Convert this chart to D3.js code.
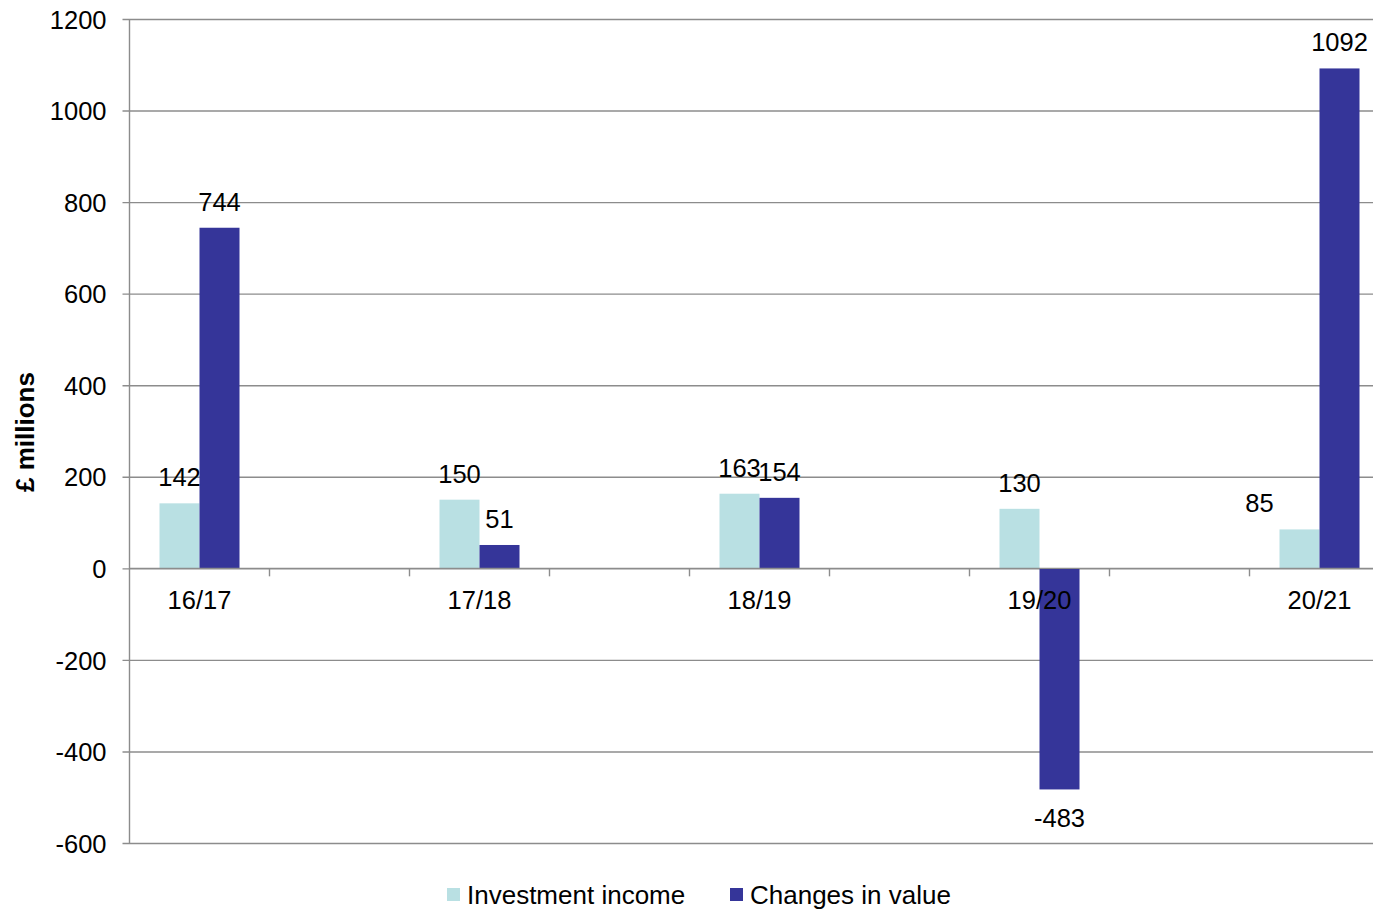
<!DOCTYPE html>
<html>
<head>
<meta charset="utf-8">
<script src="https://cdn.jsdelivr.net/npm/d3@7/dist/d3.min.js"></script>
<style>
  html, body { margin: 0; padding: 0; background: #fff; }
  svg { display: block; font-family: "Liberation Sans", Arial, Helvetica, sans-serif; }
</style>
</head>
<body>
<svg id="chart" width="1373" height="910"></svg>
<script>
// Financial years and the two series (£ millions)
const years = ["16/17", "17/18", "18/19", "19/20", "20/21"];
const investmentIncome = [142, 150, 163, 130, 85];
const changesInValue = [744, 51, 154, -483, 1092];
const seriesNames = ["Investment income", "Changes in value"];
const yTicks = [-600, -400, -200, 0, 200, 400, 600, 800, 1000, 1200];

const colors = ["#b9e0e3", "#353599"];
const gridColor = "#8c8c8c";
const fontSize = 25.5;

const svg = d3.select("#chart");
const W = 1373;

// Plot frame
const plotLeft = 129.5, plotTop = 19, plotBottom = 843;
const x = d3.scalePoint().domain(years).range([199.5, 1319.5]);
const y = d3.scaleLinear().domain([-600, 1200]).range([plotBottom, plotTop]);
const barW = 40;

// Horizontal gridlines with short ticks on the value axis
const yAxis = d3.axisLeft(y).tickValues(yTicks).tickSize(-(W - plotLeft)).tickPadding(0).tickFormat(d => d);
const gy = svg.append("g").attr("transform", `translate(${plotLeft},0)`).call(yAxis);
gy.select(".domain").remove();
gy.selectAll(".tick line").attr("stroke", gridColor).attr("stroke-width", 1.4).attr("x1", -7);
gy.selectAll(".tick text")
  .attr("x", -23).attr("dy", "0.36em")
  .attr("font-size", fontSize).attr("fill", "#000")
  .attr("font-family", "Liberation Sans, Arial, sans-serif");

// Value axis line
svg.append("line")
  .attr("x1", plotLeft).attr("x2", plotLeft).attr("y1", plotTop).attr("y2", plotBottom)
  .attr("stroke", gridColor).attr("stroke-width", 1.4);

// Bars
const series = [investmentIncome, changesInValue];
series.forEach((vals, s) => {
  svg.append("g").selectAll("rect").data(years).join("rect")
    .attr("x", (d) => x(d) + (s === 0 ? -barW : 0))
    .attr("width", barW)
    .attr("y", (d, i) => y(Math.max(0, vals[i])))
    .attr("height", (d, i) => Math.abs(y(vals[i]) - y(0)))
    .attr("fill", colors[s]);
});

// Category axis along zero, with tick marks every half step
const half = x.step() / 2;
svg.append("g").selectAll("line").data(d3.range(1, 9)).join("line")
  .attr("x1", k => x(years[0]) - half / 2 + k * half)
  .attr("x2", k => x(years[0]) - half / 2 + k * half)
  .attr("y1", y(0)).attr("y2", y(0) + 8)
  .attr("stroke", gridColor).attr("stroke-width", 1.4);

svg.append("line")
  .attr("x1", plotLeft).attr("x2", W).attr("y1", y(0)).attr("y2", y(0))
  .attr("stroke", gridColor).attr("stroke-width", 1.4);

svg.append("g").selectAll("text").data(years).join("text")
  .attr("x", d => x(d)).attr("y", 609)
  .attr("text-anchor", "middle").attr("font-size", fontSize)
  .text(d => d);

// Data labels
const labelShift = { "0|20/21": -40 };
series.forEach((vals, s) => {
  svg.append("g").selectAll("text").data(years).join("text")
    .attr("x", (d) => x(d) + (s === 0 ? -barW / 2 : barW / 2) + (labelShift[s + "|" + d] || 0))
    .attr("y", (d, i) => vals[i] >= 0 ? y(vals[i]) - 17 : y(vals[i]) + 38)
    .attr("text-anchor", "middle").attr("font-size", fontSize)
    .text((d, i) => vals[i]);
});

// Value axis title
svg.append("text")
  .attr("transform", "translate(34,432) rotate(-90)")
  .attr("text-anchor", "middle").attr("font-size", 26).attr("font-weight", "bold")
  .text("£ millions");

// Legend
const legendX = [447, 730];
const lg = svg.append("g");
seriesNames.forEach((name, s) => {
  lg.append("rect").attr("x", legendX[s]).attr("y", 888).attr("width", 13).attr("height", 13).attr("fill", colors[s]);
  lg.append("text").attr("x", legendX[s] + 20).attr("y", 904).attr("font-size", 26).text(name);
});
</script>
</body>
</html>
